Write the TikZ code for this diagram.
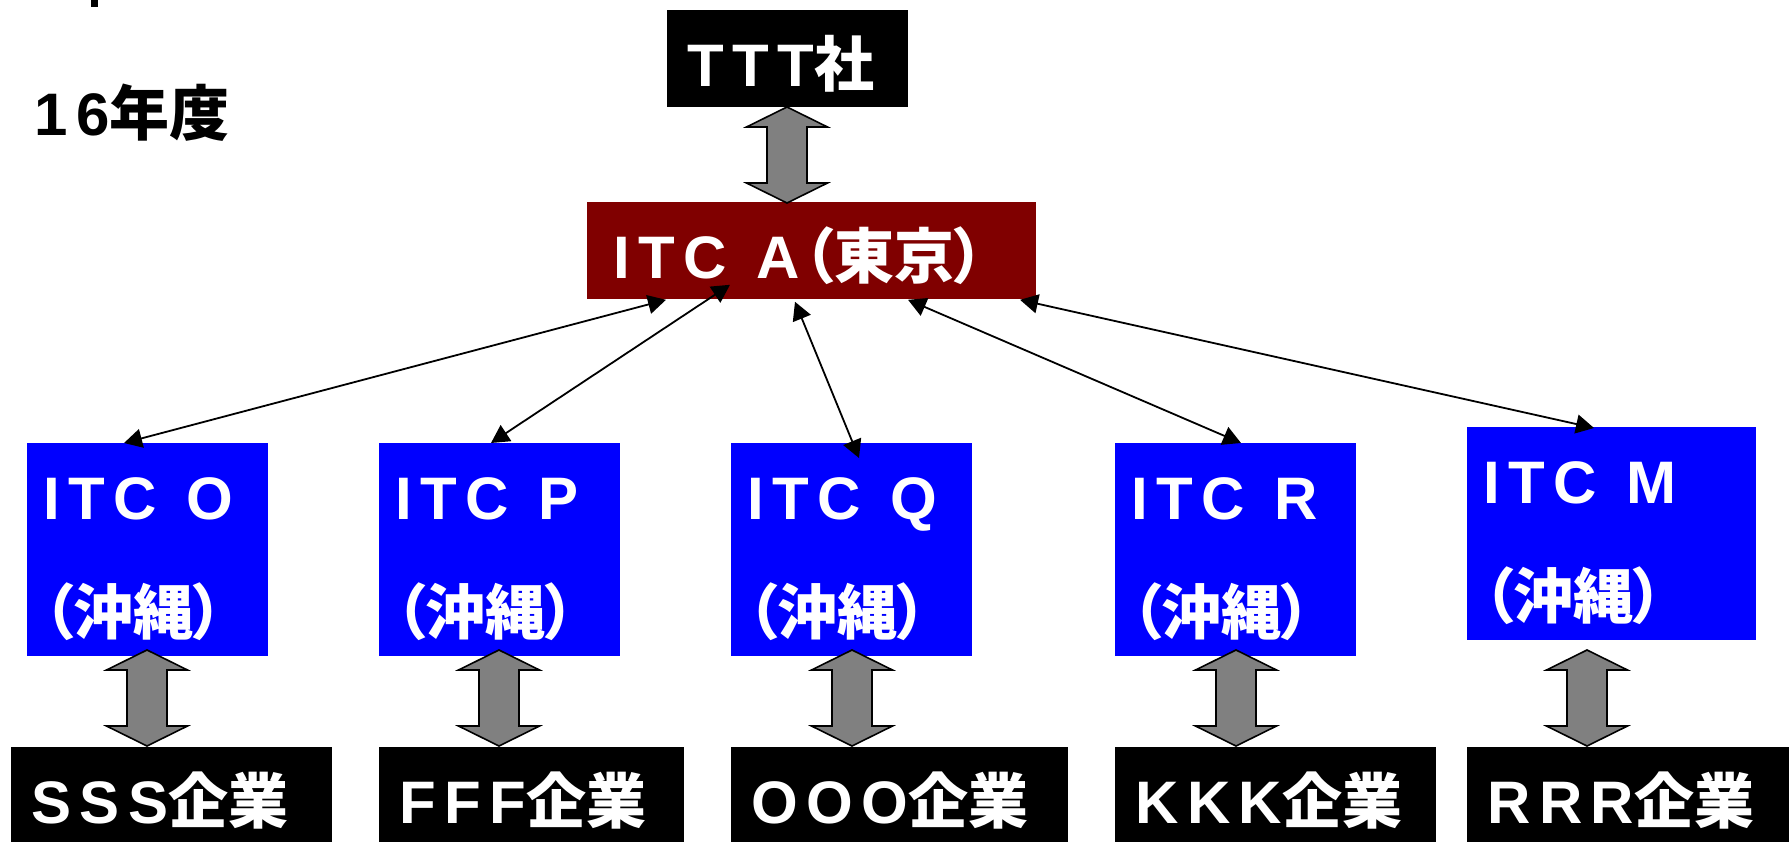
\documentclass[tikz,border=0pt]{standalone}
\usepackage{fontspec}
\setmainfont{Liberation Sans}[LetterSpace=14]
\newfontfamily\jp{Noto Sans CJK JP}[RawFeature=+palt]
\usetikzlibrary{calc,arrows.meta}
\definecolor{darkred}{RGB}{128,0,0}

\tikzset{
  blackbox/.style={fill=black, text=white, anchor=north west, inner xsep=10pt,
                   inner ysep=0pt, text height=38pt, text depth=10.5pt, align=left},
  itcbox/.style={fill=blue, text=white, anchor=north west, inner xsep=8pt,
                 inner ysep=0pt, text height=38pt, text depth=68.5pt, align=left},
  link/.style={line width=0.9pt,
               {Triangle[length=9pt,width=9.5pt]}-{Triangle[length=9pt,width=9.5pt]}},
  bigarrow/.pic={
    \draw[line width=0.8pt, fill=gray]
      (0,-48) -- (40.5,-28) -- (20,-28) -- (20,28) -- (40.5,28) -- (0,48)
      -- (-40.5,28) -- (-20,28) -- (-20,-28) -- (-40.5,-28) -- cycle;
  }
}

\begin{document}
\begin{tikzpicture}[x=0.5pt, y=-0.5pt, font=\fontsize{30}{57.5}\selectfont\bfseries]
    \clip (0,0) rectangle (1789,841);
    \fill (91,0) rectangle (98,7);
    \node[anchor=base west, inner sep=0pt] (year) at (34,135) {16{\jp 年度}};

    \node[blackbox, text width=100.5pt] (ttt) at (667,10) {TTT{\jp 社}};
    \node[blackbox, fill=darkred, inner xsep=13pt, text width=198.5pt] (a) at (587,202)
          {ITC\hspace{15pt}A\hspace{2pt}{\jp（東京）}};

    % ITC branches
    \node[itcbox, text width=104.5pt] (o) at (27,443)   {ITC\hspace{15pt}O\\{\jp（沖縄）}};
    \node[itcbox, text width=104.5pt] (p) at (379,443)  {ITC\hspace{15pt}P\\{\jp（沖縄）}};
    \node[itcbox, text width=104.5pt] (q) at (731,443)  {ITC\hspace{15pt}Q\\{\jp（沖縄）}};
    \node[itcbox, text width=104.5pt] (r) at (1115,443) {ITC\hspace{15pt}R\\{\jp（沖縄）}};
    \node[itcbox, text width=128.5pt] (m) at (1467,427) {ITC\hspace{15pt}M\\{\jp（沖縄）}};

    % companies
    \node[blackbox, text width=140.5pt] (sss) at (11,747)   {SSS{\jp 企業}};
    \node[blackbox, text width=132.5pt] (fff) at (379,747)  {FFF{\jp 企業}};
    \node[blackbox, text width=148.5pt] (ooo) at (731,747)  {OOO{\jp 企業}};
    \node[blackbox, text width=140.5pt] (kkk) at (1115,747) {KKK{\jp 企業}};
    \node[blackbox, text width=145pt]   (rrr) at (1467,747) {RRR{\jp 企業}};

    % thick arrows
    \pic at (787,155) {bigarrow};
    \foreach \x in {147,499,852,1236,1587}
        \pic at (\x,698) {bigarrow};

    % links from Tokyo
    \draw[link] ($(a.south west)+(79,0)$)    -- ($(o.north west)+(97,0)$);
    \draw[link] ($(a.south west)+(143,-15)$) -- ($(p.north west)+(112,0)$);
    \draw[link] ($(a.south west)+(208,2)$)   -- ($(q.north west)+(128,15)$);
    \draw[link] ($(a.south west)+(321,0)$)   -- ($(r.north west)+(126,0)$);
    \draw[link] ($(a.south west)+(433,0)$)   -- ($(m.north west)+(127,1)$);
\end{tikzpicture}
\end{document}
